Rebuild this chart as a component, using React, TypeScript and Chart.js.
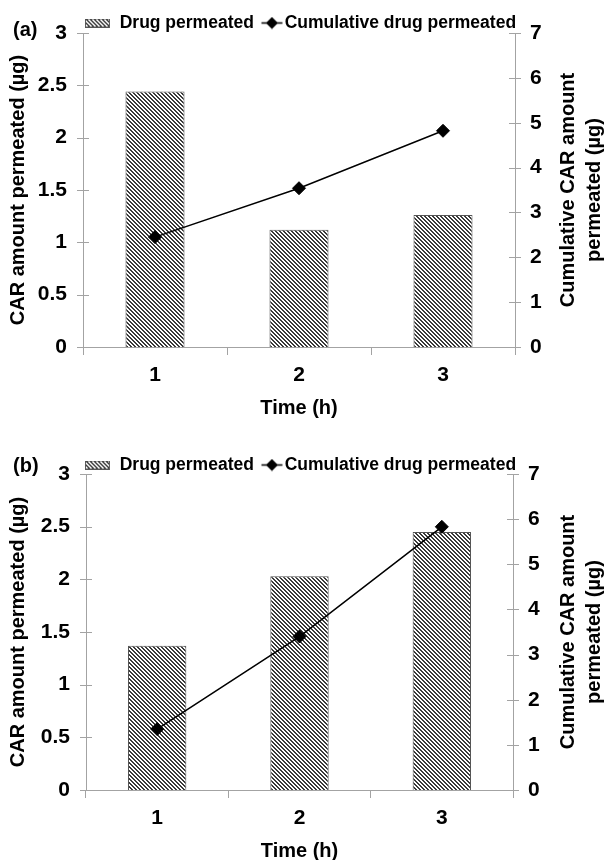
import React, { useEffect, useRef } from 'react';
import { Chart, registerables } from 'chart.js';

Chart.register(...registerables);

// ---- data ----
const categories = ['1', '2', '3'];
const drugPermeatedA = [2.44, 1.12, 1.26];
const cumulativeA = [2.45, 3.54, 4.82];
const drugPermeatedB = [1.37, 2.03, 2.45];
const cumulativeB = [1.35, 3.4, 5.83];
const legendLabels = ['Drug permeated', 'Cumulative drug permeated'];
const leftTitle = 'CAR amount permeated (µg)';
const rightTitleLines = ['Cumulative CAR amount', 'permeated (µg)'];
const xTitle = 'Time (h)';
const panelLabels = ['(a)', '(b)'];

const FONT = "'Liberation Sans', Arial, Helvetica, sans-serif";
const AXIS = '#a3a3a3';
const W = 606;
const H = 430;
const PAD_RIGHT = 1;

type PanelCfg = {
  bars: number[];
  line: number[];
  label: string;
  labelY: number;
  plotLeft: number;
  plotRight: number;
  plotTop: number;
  plotBottom: number;
  legendCenter: number;
  xTitlePad: number;
};

const panels: PanelCfg[] = [
  { bars: drugPermeatedA, line: cumulativeA, label: panelLabels[0], labelY: 30, plotLeft: 83, plotRight: 515, plotTop: 33, plotBottom: 347, legendCenter: 23, xTitlePad: 12 },
  { bars: drugPermeatedB, line: cumulativeB, label: panelLabels[1], labelY: 36, plotLeft: 86, plotRight: 513, plotTop: 44, plotBottom: 360, legendCenter: 35, xTitlePad: -1 },
];

function makeHatch(g: CanvasRenderingContext2D): CanvasPattern {
  const c = document.createElement('canvas');
  c.width = 4;
  c.height = 4;
  const p = c.getContext('2d')!;
  p.fillStyle = '#ffffff';
  p.fillRect(0, 0, 4, 4);
  p.fillStyle = '#3a3a3a';
  for (let y = 0; y < 4; y++) {
    p.fillRect(y, y, 1, 1);
    p.fillRect((y + 1) % 4, y, 1, 1);
  }
  return g.createPattern(c, 'repeat')!;
}

function makeBoxImage(): HTMLCanvasElement {
  const c = document.createElement('canvas');
  c.width = 30;
  c.height = 9;
  const g = c.getContext('2d')!;
  g.fillStyle = makeHatch(g);
  g.fillRect(0, 0, 25, 9);
  g.strokeStyle = '#555555';
  g.lineWidth = 1;
  g.strokeRect(0.5, 0.5, 24, 8);
  return c;
}

function makeLineImage(): HTMLCanvasElement {
  const c = document.createElement('canvas');
  c.width = 40;
  c.height = 13;
  const g = c.getContext('2d')!;
  g.strokeStyle = '#000';
  g.lineWidth = 1.5;
  g.beginPath();
  g.moveTo(16.5, 6.5);
  g.lineTo(37.5, 6.5);
  g.stroke();
  g.fillStyle = '#000';
  g.beginPath();
  g.moveTo(27, 0.5);
  g.lineTo(33, 6.5);
  g.lineTo(27, 12.5);
  g.lineTo(21, 6.5);
  g.closePath();
  g.fill();
  return c;
}

const extrasPlugin = {
  id: 'extras',
  beforeDatasetsDraw(chart: any) {
    const ctx = chart.ctx;
    const area = chart.chartArea;
    ctx.save();
    ctx.strokeStyle = AXIS;
    ctx.lineWidth = 1;
    for (const id of ['y', 'y1']) {
      const s = chart.scales[id];
      const x = id === 'y' ? area.left : area.right;
      s.ticks.forEach((t: any) => {
        const py = Math.round(s.getPixelForValue(t.value)) + 0.5;
        ctx.beginPath();
        ctx.moveTo(x - 6, py);
        ctx.lineTo(x + 6, py);
        ctx.stroke();
      });
    }
    ctx.restore();
  },
  afterDraw(chart: any, _args: any, opts: any) {
    const ctx = chart.ctx;
    const area = chart.chartArea;
    ctx.save();
    ctx.fillStyle = '#000';
    ctx.font = `bold 20px ${FONT}`;
    ctx.textAlign = 'left';
    ctx.textBaseline = 'middle';
    ctx.fillText(opts.label, 13, opts.labelY);
    const cy = (area.top + area.bottom) / 2;
    const xs = [568, 594];
    rightTitleLines.forEach((line, i) => {
      ctx.save();
      ctx.translate(xs[i], cy);
      ctx.rotate(-Math.PI / 2);
      ctx.textAlign = 'center';
      ctx.textBaseline = 'middle';
      ctx.fillText(line, 0, 0);
      ctx.restore();
    });
    ctx.restore();
  },
};

function Panel({ cfg }: { cfg: PanelCfg }) {
  const ref = useRef<HTMLCanvasElement | null>(null);
  useEffect(() => {
    const canvas = ref.current!;
    const ctx = canvas.getContext('2d')!;
    const hatch = makeHatch(ctx);
    const boxImg = makeBoxImage();
    const lineImg = makeLineImage();
    const legendFont = 17.5;
    const padTop = cfg.legendCenter - legendFont / 2;
    const legendHeight = cfg.plotTop - padTop;
    const tickFont = { family: FONT, size: 21, weight: 'bold' as const };
    const titleFont = { family: FONT, size: 20, weight: 'bold' as const, lineHeight: 1.2 };
    const fmt = (v: any) => String(v);

    const chart = new Chart(canvas, {
      type: 'bar',
      data: {
        labels: categories,
        datasets: [
          {
            type: 'line',
            label: legendLabels[1],
            data: cfg.line,
            yAxisID: 'y1',
            borderColor: '#000',
            backgroundColor: '#000',
            borderWidth: 1.5,
            pointStyle: 'rectRot',
            pointRadius: 6.5,
            pointBorderWidth: 1,
            pointBackgroundColor: '#000',
            pointBorderColor: '#000',
            tension: 0,
            order: 0,
          } as any,
          {
            type: 'bar',
            label: legendLabels[0],
            data: cfg.bars,
            yAxisID: 'y',
            backgroundColor: hatch,
            borderColor: '#555555',
            borderWidth: 1,
            barPercentage: 0.41,
            categoryPercentage: 1,
            order: 1,
          } as any,
        ],
      },
      options: {
        responsive: false,
        animation: false,
        devicePixelRatio: 1,
        layout: { padding: { top: padTop, right: PAD_RIGHT, left: 0, bottom: 0 } },
        plugins: {
          tooltip: { enabled: false },
          legend: {
            display: true,
            position: 'top',
            fullSize: true,
            maxHeight: legendHeight,
            labels: {
              usePointStyle: true,
              pointStyleWidth: 22,
              padding: 0,
              color: '#000',
              font: { family: FONT, size: legendFont, weight: 'bold' },
              generateLabels: () => [
                { text: legendLabels[0], pointStyle: boxImg, fillStyle: 'transparent', strokeStyle: 'transparent', lineWidth: 0, hidden: false, datasetIndex: 1 } as any,
                { text: legendLabels[1], pointStyle: lineImg, fillStyle: 'transparent', strokeStyle: 'transparent', lineWidth: 0, hidden: false, datasetIndex: 0 } as any,
              ],
            },
          },
          extras: { label: cfg.label, labelY: cfg.labelY },
        } as any,
        scales: {
          x: {
            type: 'category',
            offset: true,
            grid: { display: true, drawOnChartArea: false, drawTicks: true, tickLength: 8, color: AXIS, offset: true },
            border: { display: true, color: AXIS, width: 1 },
            ticks: { font: tickFont, color: '#000', padding: 8 },
            title: { display: true, text: xTitle, color: '#000', font: { ...titleFont, lineHeight: 1 }, padding: { top: 0, bottom: cfg.xTitlePad } },
            afterFit: (s: any) => {
              s.height = H - cfg.plotBottom;
            },
          },
          y: {
            type: 'linear',
            position: 'left',
            min: 0,
            max: 3,
            grid: { display: false, drawTicks: false },
            border: { display: true, color: AXIS, width: 1 },
            ticks: { stepSize: 0.5, font: tickFont, color: '#000', padding: 16, callback: fmt },
            title: { display: true, text: leftTitle, color: '#000', font: titleFont, padding: { top: 6, bottom: 0 } },
            afterFit: (s: any) => {
              s.width = cfg.plotLeft;
            },
          },
          y1: {
            type: 'linear',
            position: 'right',
            min: 0,
            max: 7,
            grid: { display: false, drawTicks: false },
            border: { display: true, color: AXIS, width: 1 },
            ticks: { stepSize: 1, font: tickFont, color: '#000', padding: 15, callback: fmt },
            afterFit: (s: any) => {
              s.width = W - PAD_RIGHT - cfg.plotRight;
            },
          },
        },
      } as any,
      plugins: [extrasPlugin as any],
    });
    return () => chart.destroy();
  }, [cfg]);
  return <canvas ref={ref} width={W} height={H} style={{ display: 'block', width: W, height: H }} />;
}

export default function App() {
  return (
    <div style={{ position: 'absolute', left: 0, top: 0, width: W, height: 860, background: '#fff' }}>
      {panels.map((p, i) => (
        <Panel key={i} cfg={p} />
      ))}
    </div>
  );
}
